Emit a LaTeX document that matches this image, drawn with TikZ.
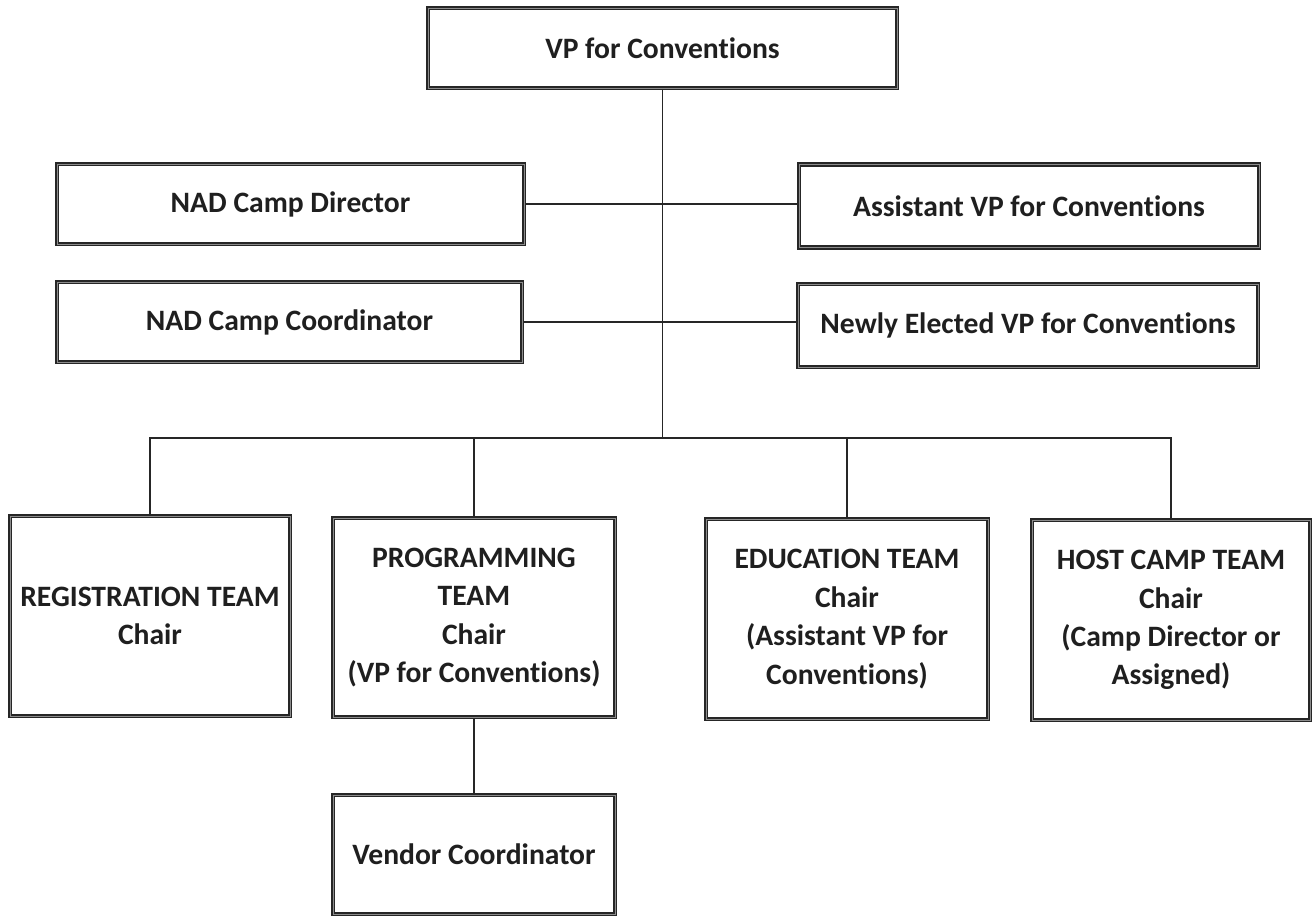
\documentclass[tikz,border=0pt]{standalone}
\usepackage{fontspec}
\setmainfont{Carlito}[Ligatures={NoCommon,NoContextual,NoRequired},Contextuals={NoAlternate}]
\tikzset{
  box/.style 2 args={draw=black!85, double=black!45, double distance=0.6pt, line width=1.5pt,
    fill=white, align=center, inner sep=0pt,
    minimum width=#1*0.75pt, minimum height=#2*0.75pt,
    font=\fontsize{22.2}{28.8}\selectfont\bfseries, text=black!88},
  conn/.style={draw=black!85, line width=1.2pt}}
\begin{document}
\begin{tikzpicture}[x=0.75pt,y=-0.75pt]
\useasboundingbox (0,0) rectangle (1312,916);
\fill[white] (0,0) rectangle (1312,916);

\node[box={469}{80}] (vp) at (662.5,48) {VP for Conventions};
\node[box={467}{80}] (dir) at (290.5,204) {NAD Camp Director};
\node[box={465}{80}] (coord) at (289.5,322) {NAD Camp Coordinator};
\node[box={460}{83}] (asst) at (1029,206) {Assistant VP for Conventions};
\node[box={460}{83}] (newvp) at (1028,325.5) {Newly Elected VP for Conventions};

\node[box={280}{200}] (reg) at (150,616) {REGISTRATION TEAM\\Chair};
\node[box={282}{199}] (prog) at (474,617.5) {PROGRAMMING\\TEAM\\Chair\\(VP for Conventions)};
\node[box={282}{200}] (edu) at (847,619) {EDUCATION TEAM\\Chair\\(Assistant VP for\\Conventions)};
\node[box={278}{200}] (host) at (1171,620) {HOST CAMP TEAM\\Chair\\(Camp Director or\\Assigned)};
\node[box={282}{119}] (vend) at (474,854.5) {Vendor Coordinator};

\coordinate (bus) at (662.5,438);

\draw[conn] (dir.east) -- (dir.east -| asst.west);
\draw[conn] (coord.east) -- (coord.east -| newvp.west);
\draw[conn] (vp.south) -- (bus);
\draw[conn] (reg.north) |- (bus) -| (host.north);
\draw[conn] (prog.north) -- (prog.north |- bus);
\draw[conn] (edu.north) -- (edu.north |- bus);
\draw[conn] (prog.south) -- (vend.north);
\end{tikzpicture}
\end{document}
